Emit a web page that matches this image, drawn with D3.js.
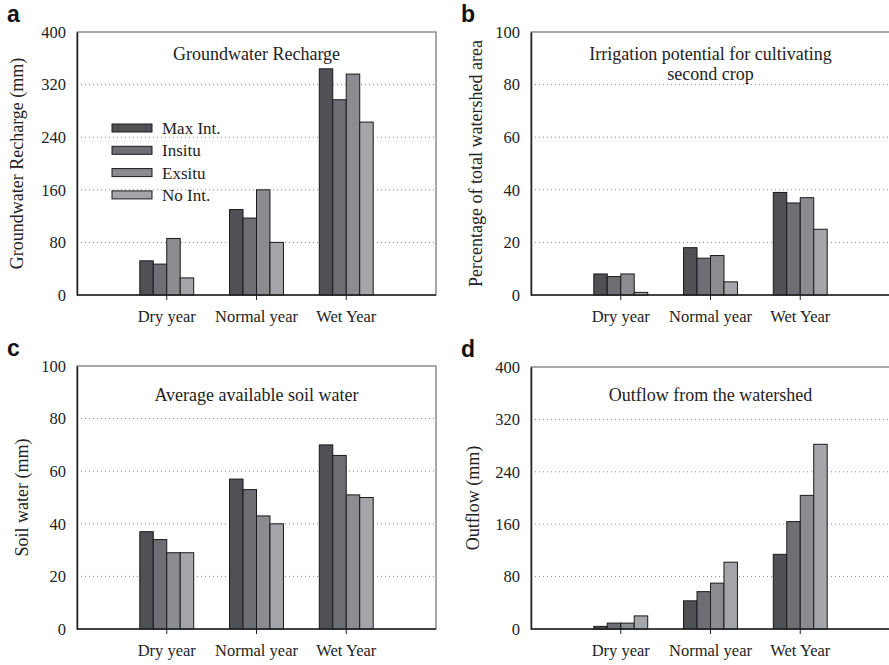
<!DOCTYPE html>
<html>
<head>
<meta charset="utf-8">
<script src="https://cdn.jsdelivr.net/npm/d3@7"></script>
<style>
  body { margin: 0; background: #fff; }
  svg { display: block; }
</style>
</head>
<body>
<svg width="889" height="665"></svg>
<script>
var years = ["Dry year", "Normal year", "Wet Year"];
var scenarios = ["Max Int.", "Insitu", "Exsitu", "No Int."];
var colors = ["#505155", "#6e6f74", "#8b8c90", "#a5a6aa"];

// values per scenario: [Dry, Normal, Wet]
var rechargeMax = [52, 130, 344],
    rechargeInsitu = [47, 117, 297],
    rechargeExsitu = [86, 160, 336],
    rechargeNoInt = [26, 80, 263];

var irrigMax = [8, 18, 39],
    irrigInsitu = [7, 14, 35],
    irrigExsitu = [8, 15, 37],
    irrigNoInt = [1, 5, 25];

var soilMax = [37, 57, 70],
    soilInsitu = [34, 53, 66],
    soilExsitu = [29, 43, 51],
    soilNoInt = [29, 40, 50];

var outflowMax = [4, 43, 114],
    outflowInsitu = [9, 57, 164],
    outflowExsitu = [9, 70, 204],
    outflowNoInt = [20, 102, 282];

var serif = "'Liberation Serif', 'Times New Roman', serif";
var svg = d3.select("svg");

var panels = [
  {letter: "a", left: 77, top: 32, bottom: 295, max: 400, ticks: [0, 80, 160, 240, 320, 400],
   title: ["Groundwater Recharge"], titleY: 60, ylabel: "Groundwater Recharge (mm)", ylabelX: 17,
   series: [rechargeMax, rechargeInsitu, rechargeExsitu, rechargeNoInt], legend: true},
  {letter: "b", left: 531, top: 32, bottom: 295, max: 100, ticks: [0, 20, 40, 60, 80, 100],
   title: ["Irrigation potential for cultivating", "second crop"], titleY: 60, ylabel: "Percentage of total watershed area", ylabelX: 476,
   series: [irrigMax, irrigInsitu, irrigExsitu, irrigNoInt]},
  {letter: "c", left: 77, top: 366, bottom: 629, max: 100, ticks: [0, 20, 40, 60, 80, 100],
   title: ["Average available soil water"], titleY: 401, ylabel: "Soil water (mm)", ylabelX: 22,
   series: [soilMax, soilInsitu, soilExsitu, soilNoInt]},
  {letter: "d", left: 531, top: 367, bottom: 629, max: 400, ticks: [0, 80, 160, 240, 320, 400],
   title: ["Outflow from the watershed"], titleY: 401, ylabel: "Outflow (mm)", ylabelX: 473,
   series: [outflowMax, outflowInsitu, outflowExsitu, outflowNoInt]}
];

var plotWidth = 359;

panels.forEach(function(p) {
  var w = plotWidth, h = p.bottom - p.top;
  var g = svg.append("g").attr("transform", "translate(" + p.left + "," + p.top + ")");

  var y = d3.scaleLinear().domain([0, p.max]).range([h, 0]);
  var x0 = d3.scaleBand().domain(years).range([w / 8, w * 7 / 8]);
  var x1 = d3.scaleBand().domain(scenarios).range([0, x0.bandwidth()]).paddingOuter(1.33);

  // frame (top/right)
  g.append("rect")
    .attr("width", w).attr("height", h)
    .attr("fill", "none").attr("stroke", "#555").attr("stroke-width", 1);

  // dotted gridlines
  g.selectAll(".grid")
    .data(p.ticks.filter(function(t) { return t > 0 && t < p.max; }))
    .enter().append("line")
    .attr("x1", 0).attr("x2", w)
    .attr("y1", function(d) { return y(d); }).attr("y2", function(d) { return y(d); })
    .attr("stroke", "#888").attr("stroke-width", 1).attr("stroke-dasharray", "1,3");

  // bars
  var groups = g.selectAll(".grp")
    .data(years)
    .enter().append("g")
    .attr("transform", function(d) { return "translate(" + x0(d) + ",0)"; });

  groups.selectAll("rect")
    .data(function(d, i) { return scenarios.map(function(s, k) { return {s: s, k: k, v: p.series[k][i]}; }); })
    .enter().append("rect")
    .attr("x", function(d) { return x1(d.s); })
    .attr("width", x1.bandwidth())
    .attr("y", function(d) { return y(d.v); })
    .attr("height", function(d) { return h - y(d.v); })
    .attr("fill", function(d) { return colors[d.k]; })
    .attr("stroke", "#1a1a1a").attr("stroke-width", 1);

  // y axis
  var yAxis = g.append("g")
    .call(d3.axisLeft(y).tickValues(p.ticks).tickSize(0).tickPadding(11));
  yAxis.select(".domain").attr("stroke", "#222").attr("stroke-width", 1.5);
  yAxis.selectAll("text").style("font-family", serif).style("font-size", "16.5px").attr("fill", "#222");

  // x axis
  var xAxis = g.append("g")
    .attr("transform", "translate(0," + h + ")")
    .call(d3.axisBottom(x0).tickSize(5).tickPadding(10).tickSizeOuter(0));
  xAxis.select(".domain").attr("d", "M0,0H" + w).attr("stroke", "#222").attr("stroke-width", 1.5);
  xAxis.selectAll("line").attr("stroke", "#222");
  xAxis.selectAll("text").style("font-family", serif).style("font-size", "16.5px").attr("fill", "#222");

  // panel title
  p.title.forEach(function(t, i) {
    svg.append("text")
      .attr("x", p.left + w / 2)
      .attr("y", p.titleY + i * 20)
      .attr("text-anchor", "middle")
      .style("font-family", serif)
      .style("font-size", "18px")
      .attr("fill", "#222")
      .text(t);
  });

  // y label
  svg.append("text")
    .attr("transform", "translate(" + p.ylabelX + "," + (p.top + h / 2) + ") rotate(-90)")
    .attr("text-anchor", "middle")
    .attr("dominant-baseline", "central")
    .style("font-family", serif)
    .style("font-size", "18px")
    .attr("fill", "#222")
    .text(p.ylabel);

  // panel letter
  svg.append("text")
    .attr("x", p.left - 70)
    .attr("y", p.top - 10)
    .style("font-family", "'Liberation Sans', Arial, sans-serif")
    .style("font-weight", "bold")
    .style("font-size", "23px")
    .attr("fill", "#111")
    .text(p.letter);

  if (p.legend) {
    var leg = g.append("g").attr("transform", "translate(35,96)");
    var row = leg.selectAll("g")
      .data(scenarios)
      .enter().append("g")
      .attr("transform", function(d, i) { return "translate(0," + i * 22.3 + ")"; });
    row.append("rect")
      .attr("width", 40).attr("height", 8).attr("y", -4)
      .attr("fill", function(d, i) { return colors[i]; })
      .attr("stroke", "#1a1a1a").attr("stroke-width", 1);
    row.append("text")
      .attr("x", 50).attr("dy", "0.35em")
      .style("font-family", serif)
      .style("font-size", "17px")
      .attr("fill", "#222")
      .text(function(d) { return d; });
  }
});
</script>
</body>
</html>
